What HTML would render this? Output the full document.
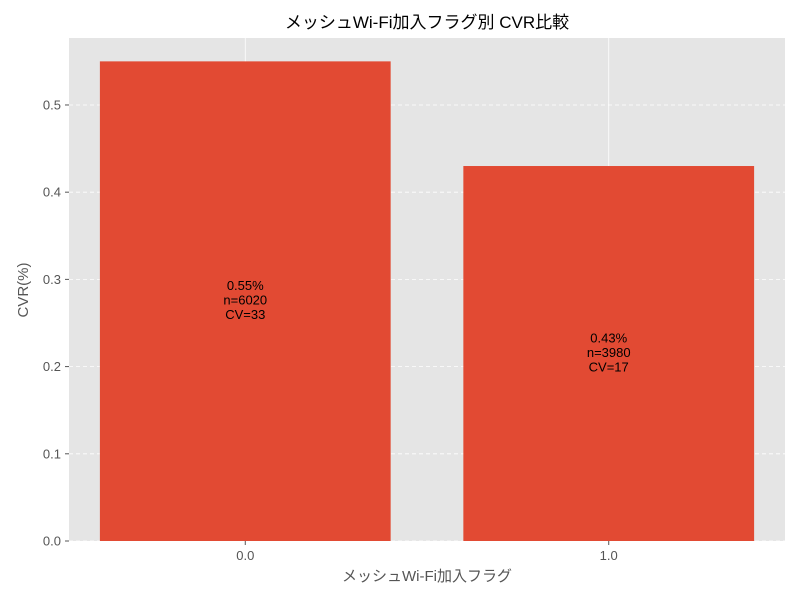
<!DOCTYPE html>
<html><head><meta charset="utf-8"><style>
body{margin:0;background:#fff;}
svg{display:block;font-family:"Liberation Sans","Noto Sans CJK JP",sans-serif;}
</style></head><body>
<svg id="chart" width="800" height="600">
<rect x="0" y="0" width="800" height="600" fill="#fff"/>
<rect x="69" y="38" width="716" height="503" fill="#e5e5e5"/>
<g id="grid"></g><g id="bars"></g><g id="axes"></g>
<text x="427" y="28" text-anchor="middle" font-size="17" fill="#000">メッシュWi-Fi加入フラグ別 CVR比較</text>
<text x="427" y="581" text-anchor="middle" font-size="15" fill="#555">メッシュWi-Fi加入フラグ</text>
<text x="28" y="290" text-anchor="middle" font-size="15" fill="#555" transform="rotate(-90 28 290)">CVR(%)</text>
</svg>
<script>
const categories=["0.0","1.0"];
const cvrValues=[0.55,0.43];
const nValues=[6020,3980];
const cvValues=[33,17];
const yTicks=[0,0.1,0.2,0.3,0.4,0.5];
const NS="http://www.w3.org/2000/svg";
const x0=69,x1=785,yB=541,yT=38;
const xMin=-0.485,xMax=1.485,yMax=0.5768;
const xs=v=>x0+(v-xMin)/(xMax-xMin)*(x1-x0);
const ys=v=>yB-v/yMax*(yB-yT);
function mk(t,a,p){const e=document.createElementNS(NS,t);for(const k in a)e.setAttribute(k,a[k]);p.appendChild(e);return e;}
const grid=document.getElementById('grid'),bars=document.getElementById('bars'),axes=document.getElementById('axes');
yTicks.forEach(t=>{
 const y=ys(t);
 const l=mk('line',{x1:x0,x2:x1,y1:y,y2:y,stroke:'#fff','stroke-dasharray':'4,3','stroke-width':0.8},grid);
 
 
 const tk=mk('line',{x1:x0-4,x2:x0,y1:y,y2:y,stroke:'#555'},axes);
 
 
 const tx=mk('text',{x:x0-8,y:y+4.5,'text-anchor':'end','font-size':13,fill:'#555'},axes);
 tx.textContent=t.toFixed(1);
 
 
});
categories.forEach((c,i)=>{
 const cx=xs(i);
 const g=mk('line',{x1:cx,x2:cx,y1:yT,y2:yB,stroke:'#fff','stroke-width':0.8},grid);
 
 
 const w=xs(0.4)-xs(0);
 const b=mk('rect',{x:cx-w,y:ys(cvrValues[i]),width:2*w,height:yB-ys(cvrValues[i]),fill:'#e24a33'},bars);
 
 
 const my=ys(cvrValues[i]/2);
 [cvrValues[i].toFixed(2)+'%','n='+nValues[i],'CV='+cvValues[i]].forEach((s,j)=>{
  const t=mk('text',{x:cx,y:my-11+j*14.5,'text-anchor':'middle','font-size':13,fill:'#000'},bars);
  t.textContent=s;
  
  
 });
 const tk=mk('line',{x1:cx,x2:cx,y1:yB,y2:yB+4,stroke:'#555'},axes);
 
 
 const tx=mk('text',{x:cx,y:yB+19,'text-anchor':'middle','font-size':13,fill:'#555'},axes);
 tx.textContent=c;
 
 
});
</script>
</body></html>
